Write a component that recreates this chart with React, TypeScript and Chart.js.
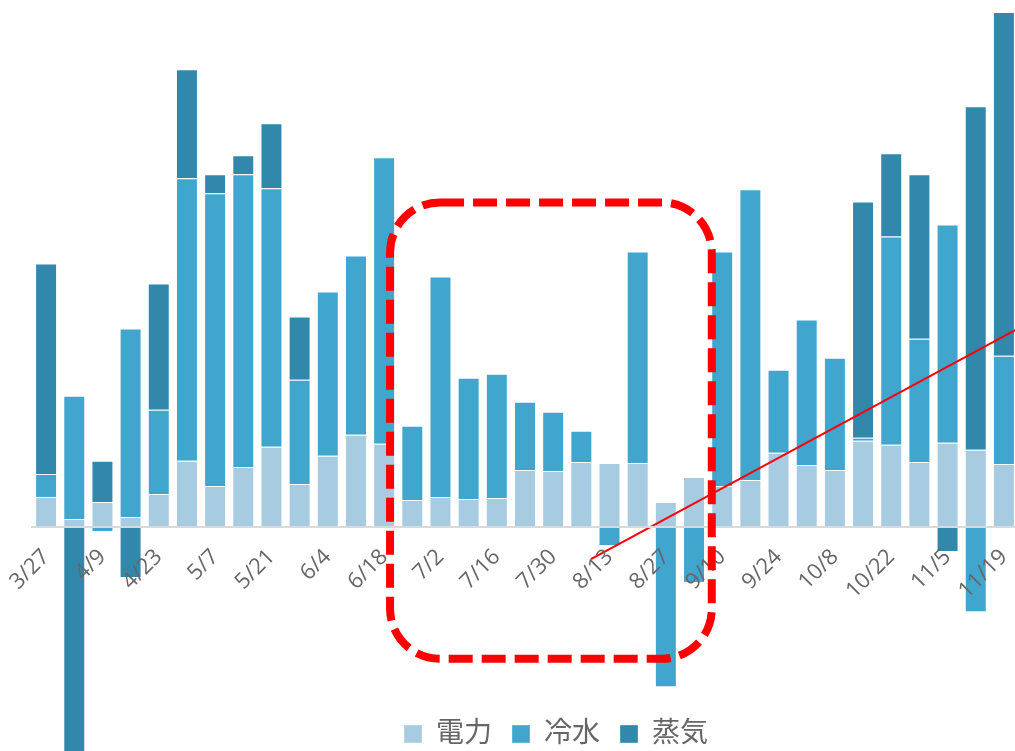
import React, { useEffect, useRef } from 'react';
import { Chart, registerables } from 'chart.js';

Chart.register(...registerables);

const labels = [
  '3/27', '4/2', '4/9', '4/16', '4/23', '4/30', '5/7', '5/14', '5/21', '5/28',
  '6/4', '6/11', '6/18', '6/25', '7/2', '7/9', '7/16', '7/23', '7/30', '8/6',
  '8/13', '8/20', '8/27', '9/3', '9/10', '9/17', '9/24', '10/1', '10/8', '10/15',
  '10/22', '10/29', '11/5', '11/12', '11/19',
];

const seriesNames = ['電力', '冷水', '蒸気'];

const power = [
  30, 8, 25, 10, 33, 66, 41, 60, 80, 43,
  71, 92, 83, 27, 30, 28, 29, 57, 56, 65,
  64, 64, 25, 50, 41, 47, 74, 62, 57, 86,
  82, 65, 84, 77, 63,
];

const chilled = [
  23, 123, -5, 188, 84, 282, 292, 292, 258, 104,
  164, 179, 286, 74, 220, 121, 124, 68, 59, 31,
  -19, 211, -160, -56, 234, 290, 83, 145, 112, 3,
  208, 123, 218, -85, 108,
];

const steam = [
  210, -240, 41, -51, 126, 109, 19, 19, 65, 63,
  null, null, null, null, null, null, null, null, null, null,
  null, null, null, null, null, null, null, null, null, 236,
  83, 164, -25, 343, 343,
];

// trend line (category index position, value)
const trendX = [19.34, 34.5];
const trendY = [-32, 198];

// highlighted period (index range, value range)
const highlight = { xFrom: 12.21, xTo: 23.63, yTop: 324, yBottom: -131.5 };

const colors = ['#a7cbe0', '#40a6cd', '#3188aa'];
const FONT = "'Open Sans', 'Noto Sans CJK JP', sans-serif";

const W = 1080;
const H = 758;

const highlightPlugin = {
  id: 'highlightBox',
  afterDraw(chart: any) {
    const xs = chart.scales.x;
    const ys = chart.scales.y;
    const x1 = xs.getPixelForValue(highlight.xFrom);
    const x2 = xs.getPixelForValue(highlight.xTo);
    const y1 = ys.getPixelForValue(highlight.yTop);
    const y2 = ys.getPixelForValue(highlight.yBottom);
    const ctx = chart.ctx;
    ctx.save();
    ctx.strokeStyle = '#ff0000';
    ctx.lineWidth = 8;
    ctx.lineCap = 'butt';
    ctx.setLineDash([24, 9]);
    ctx.beginPath();
    ctx.roundRect(x1, y1, x2 - x1, y2 - y1, 50);
    ctx.stroke();
    ctx.restore();
  },
};

export default function App() {
  const ref = useRef<HTMLCanvasElement | null>(null);

  useEffect(() => {
    if (!ref.current) return;
    const series = [power, chilled, steam];
    const chart = new Chart(ref.current, {
      type: 'bar',
      data: {
        labels,
        datasets: [
          ...series.map((d, i) => ({
            type: 'bar' as const,
            label: seriesNames[i],
            data: d,
            backgroundColor: colors[i],
            borderColor: 'rgba(255,255,255,0.35)',
            borderWidth: 1,
            grouped: false,
            xAxisID: 'x',
            yAxisID: 'y',
            clip: false as any,
          })),
          {
            type: 'line' as const,
            label: 'trend',
            parsing: false,
            data: trendX.map((x, i) => ({ x, y: trendY[i] })) as any,
            borderColor: '#ff0000',
            borderWidth: 2,
            pointRadius: 0,
            fill: false,
            xAxisID: 'x',
            yAxisID: 'y',
            order: -1,
            clip: false as any,
          },
        ],
      },
      options: {
        responsive: false,
        animation: false,
        devicePixelRatio: 1,
        layout: { padding: { left: 32, right: 0, top: 0, bottom: 0 } },
        datasets: { bar: { categoryPercentage: 1, barPercentage: 0.78 } },
        plugins: {
          tooltip: { enabled: false },
          legend: {
            position: 'bottom',
            labels: {
              boxWidth: 18,
              boxHeight: 18,
              padding: 20,
              color: '#666',
              font: { size: 28, family: FONT },
              filter: (item: any) => item.datasetIndex < 3,
            },
          },
        },
        scales: {
          x: {
            type: 'category',
            stacked: true,
            z: 1,
            grid: { display: false, drawTicks: false },
            border: { display: true, color: '#d9d9d9', width: 2, z: 1 },
            ticks: {
              z: 1,
              autoSkip: false,
              minRotation: 45,
              maxRotation: 45,
              padding: 17,
              color: '#666',
              font: { size: 22, family: FONT },
              callback: (_v: any, i: number) => (i % 2 === 0 ? labels[i] : ''),
            },
            afterFit: (s: any) => {
              s.height = 173;
              s.paddingLeft = 0;
              s.paddingRight = 0;
            },
          },
          y: {
            stacked: true,
            display: false,
            min: 0,
            max: 526,
          },
          y2: {
            type: 'linear',
            position: 'right',
            display: true,
            grid: { display: false },
            border: { display: false },
            ticks: { display: false },
            afterFit: (s: any) => {
              s.width = 62;
            },
          },
        },
      } as any,
      plugins: [highlightPlugin],
    });
    return () => chart.destroy();
  }, []);

  return (
    <div
      style={{
        position: 'fixed',
        left: 0,
        top: 0,
        width: 1015,
        height: 751,
        overflow: 'hidden',
        background: '#fff',
      }}
    >
      <canvas ref={ref} width={W} height={H} style={{ display: 'block', width: W, height: H }} />
    </div>
  );
}
